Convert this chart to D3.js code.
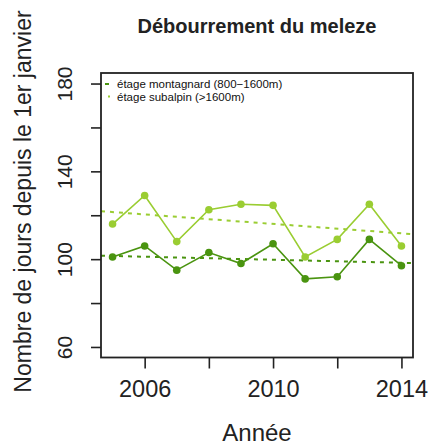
<!DOCTYPE html>
<html>
<head>
<meta charset="utf-8">
<script src="https://cdn.jsdelivr.net/npm/d3@7"></script>
<style>
body { margin: 0; background: #fff; }
text { font-family: "Liberation Sans", Arial, sans-serif; fill: #222; }
</style>
</head>
<body>
<div id="chart"></div>
<script>
// data
var years = [2005, 2006, 2007, 2008, 2009, 2010, 2011, 2012, 2013, 2014];
var montagnard = [101, 106, 95, 103, 98, 107, 91, 92, 109, 97];
var subalpin = [116, 129, 108, 122.5, 125, 124.5, 101, 109, 125, 106];
var seriesNames = ["étage montagnard (800−1600m)", "étage subalpin (>1600m)"];
var seriesColors = ["#4a9410", "#9acd32"];
var xTicks = [2006, 2008, 2010, 2012, 2014];
var xTickLabels = ["2006", "", "2010", "", "2014"];
var yTicks = [60, 80, 100, 120, 140, 160, 180];
var yTickLabels = ["60", "", "100", "", "140", "", "180"];

var W = 428, H = 445;
var plotL = 101, plotR = 413, plotT = 73, plotB = 357.5;

var svg = d3.select("#chart").append("svg")
    .attr("width", W)
    .attr("height", H);

// R style axes: 4% padding around the data range
var x = d3.scaleLinear().domain([2004.64, 2014.36]).range([plotL, plotR]);
var y = d3.scaleLinear().domain([55.2, 184.8]).range([plotB, plotT]);

// regression line (abline(lm(...)))
function fit(vals) {
    var mx = d3.mean(years), my = d3.mean(vals);
    var sxy = d3.sum(years, function(d, i) { return (d - mx) * (vals[i] - my); });
    var sxx = d3.sum(years, function(d) { return (d - mx) * (d - mx); });
    var b = sxy / sxx;
    return function(t) { return my + b * (t - mx); };
}

var series = [montagnard, subalpin];

svg.append("clipPath").attr("id", "clip")
    .append("rect").attr("x", plotL).attr("y", plotT)
    .attr("width", plotR - plotL).attr("height", plotB - plotT);

var plot = svg.append("g").attr("clip-path", "url(#clip)");

series.forEach(function(vals, k) {
    var f = fit(vals);
    var dom = x.domain();
    plot.append("line")
        .attr("x1", x(dom[0])).attr("x2", x(dom[1]))
        .attr("y1", y(f(dom[0]))).attr("y2", y(f(dom[1])))
        .attr("stroke", seriesColors[k])
        .attr("stroke-width", 2)
        .attr("stroke-dasharray", "4,5");
});

var line = d3.line()
    .x(function(d, i) { return x(years[i]); })
    .y(function(d) { return y(d); });

series.forEach(function(vals, k) {
    plot.append("path")
        .datum(vals)
        .attr("d", line)
        .attr("fill", "none")
        .attr("stroke", seriesColors[k])
        .attr("stroke-width", 1.6);
    plot.selectAll(".pt" + k)
        .data(vals)
        .enter().append("circle")
        .attr("class", "pt" + k)
        .attr("cx", function(d, i) { return x(years[i]); })
        .attr("cy", function(d) { return y(d); })
        .attr("r", 3.8)
        .attr("fill", seriesColors[k]);
});

// frame
svg.append("rect")
    .attr("x", plotL).attr("y", plotT)
    .attr("width", plotR - plotL).attr("height", plotB - plotT)
    .attr("fill", "none")
    .attr("stroke", "#222")
    .attr("stroke-width", 1.8);

// axes
var xAxis = svg.append("g")
    .attr("transform", "translate(0," + plotB + ")")
    .call(d3.axisBottom(x).tickValues(xTicks).tickSize(11).tickSizeOuter(0)
        .tickFormat(function(d, i) { return xTickLabels[i]; }));
xAxis.select(".domain").remove();
xAxis.selectAll(".tick line").attr("stroke", "#222").attr("stroke-width", 1.6);
xAxis.selectAll(".tick text")
    .attr("y", 0).attr("dy", 0)
    .attr("transform", "translate(0,39.5)")
    .style("font-size", "23.5px")
    .attr("fill", "#222");

var yAxis = svg.append("g")
    .attr("transform", "translate(" + plotL + ",0)")
    .call(d3.axisLeft(y).tickValues(yTicks).tickSize(10).tickSizeOuter(0)
        .tickFormat(function(d, i) { return yTickLabels[i]; }));
yAxis.select(".domain").remove();
yAxis.selectAll(".tick line").attr("stroke", "#222").attr("stroke-width", 1.6);
yAxis.selectAll(".tick text")
    .attr("x", 0).attr("dy", 0)
    .attr("text-anchor", "middle")
    .attr("transform", "translate(-29,0) rotate(-90)")
    .style("font-size", "21px")
    .attr("fill", "#222");

// titles
svg.append("text")
    .attr("x", (plotL + plotR) / 2)
    .attr("y", 33)
    .attr("text-anchor", "middle")
    .style("font-size", "20px")
    .style("font-weight", "bold")
    .text("Débourrement du meleze");

svg.append("text")
    .attr("x", (plotL + plotR) / 2)
    .attr("y", 441)
    .attr("text-anchor", "middle")
    .style("font-size", "24px")
    .text("Année");

svg.append("text")
    .attr("transform", "translate(31,201.5) rotate(-90)")
    .attr("text-anchor", "middle")
    .style("font-size", "23px")
    .text("Nombre de jours depuis le 1er janvier");

// legend
var legend = svg.append("g");
seriesNames.forEach(function(name, k) {
    var ly = 84 + k * 12.5;
    legend.append("line")
        .attr("x1", 105).attr("x2", 112)
        .attr("y1", ly).attr("y2", ly)
        .attr("stroke", seriesColors[k])
        .attr("stroke-width", 2)
        .attr("stroke-dasharray", k == 0 ? "4,3" : "0,3,2,3");
    legend.append("text")
        .attr("x", 117)
        .attr("y", ly)
        .attr("dy", "0.35em")
        .style("font-size", "11.5px")
        .style("fill", "#111")
        .text(name);
});
</script>
</body>
</html>
